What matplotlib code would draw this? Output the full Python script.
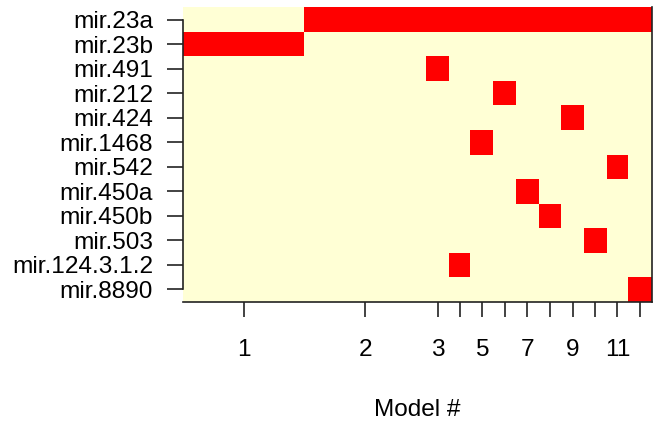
import numpy as np
import matplotlib.pyplot as plt
from matplotlib.colors import ListedColormap

plt.rcParams['font.family'] = ['Liberation Sans', 'DejaVu Sans']

variables = ['mir.23a', 'mir.23b', 'mir.491', 'mir.212', 'mir.424', 'mir.1468',
             'mir.542', 'mir.450a', 'mir.450b', 'mir.503', 'mir.124.3.1.2', 'mir.8890']
# posterior probability of each model (column width)
post_prob = [0.259, 0.260, 0.048, 0.046, 0.048, 0.049, 0.048, 0.048, 0.049, 0.048, 0.046, 0.050]
# models (1-based) in which each variable is included
included = [
    [2, 3, 4, 5, 6, 7, 8, 9, 10, 11, 12],
    [1],
    [3],
    [6],
    [9],
    [5],
    [11],
    [7],
    [8],
    [10],
    [4],
    [12],
]
shown_labels = [1, 2, 3, 5, 7, 9, 11]

n_var = len(variables)
n_mod = len(post_prob)
mat = np.zeros((n_var, n_mod))
for i, mods in enumerate(included):
    for m in mods:
        mat[i, m - 1] = 1

xedges = np.concatenate([[0], np.cumsum(post_prob)])
xmid = (xedges[:-1] + xedges[1:]) / 2
yedges = np.arange(n_var + 1)

fig = plt.figure(figsize=(6.58, 4.23), dpi=100)
ax = fig.add_axes([0.2777, 0.2868, 0.7127, 0.6959])
ax.pcolormesh(xedges, yedges, mat, cmap=ListedColormap(['#FFFFD5', '#FF0000']),
              vmin=0, vmax=1)
ax.set_xlim(xedges[0], xedges[-1])
ax.set_ylim(n_var, 0)

fs = 17.6
ax.set_yticks(np.arange(n_var) + 0.5)
ax.set_yticklabels(variables, fontsize=fs)
ax.set_xticks(xmid)
ax.set_xticklabels([str(k + 1) if (k + 1) in shown_labels else '' for k in range(n_mod)],
                   fontsize=fs)
ax.tick_params(axis='y', length=11.3, width=1.2, pad=10.0, color='#222222')
ax.tick_params(axis='x', length=10.6, width=1.2, pad=16.0, color='#222222')

ax.spines['top'].set_visible(False)
ax.spines['left'].set_bounds(0.5, n_var - 0.5)
for s in ['left', 'bottom', 'right']:
    ax.spines[s].set_color('#222222')
    ax.spines[s].set_linewidth(1.2)

fig.text(0.634, 1 - 410 / 423, 'Model #', fontsize=fs, ha='center', va='center')

fig.savefig('out.png', dpi=100)
